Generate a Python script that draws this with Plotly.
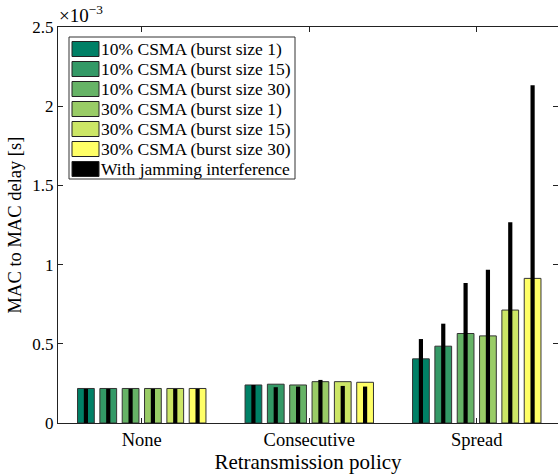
import plotly.graph_objects as go

# ---------------- data ----------------
categories = ["None", "Consecutive", "Spread"]
series_names = [
    "10% CSMA (burst size 1)",
    "10% CSMA (burst size 15)",
    "10% CSMA (burst size 30)",
    "30% CSMA (burst size 1)",
    "30% CSMA (burst size 15)",
    "30% CSMA (burst size 30)",
]
jam_name = "With jamming interference"

# MAC to MAC delay [s], one list per series: values for None, Consecutive, Spread
csma10_b1 = [0.000218, 0.000240, 0.000405]
csma10_b15 = [0.000218, 0.000245, 0.000485]
csma10_b30 = [0.000218, 0.000240, 0.000565]
csma30_b1 = [0.000218, 0.000261, 0.000550]
csma30_b15 = [0.000218, 0.000261, 0.000713]
csma30_b30 = [0.000218, 0.000257, 0.000913]

# with jamming interference
jam10_b1 = [0.000215, 0.000240, 0.000530]
jam10_b15 = [0.000215, 0.000226, 0.000627]
jam10_b30 = [0.000215, 0.000230, 0.000884]
jam30_b1 = [0.000215, 0.000272, 0.000968]
jam30_b15 = [0.000215, 0.000234, 0.001268]
jam30_b30 = [0.000215, 0.000230, 0.002133]

y_tickvals = [0, 0.0005, 0.001, 0.0015, 0.002, 0.0025]
y_ticktext = ["0", "0.5", "1", "1.5", "2", "2.5"]

# ---------------- style ----------------
colors = ["#008066", "#339966", "#66b366", "#99cc66", "#cce666", "#ffff66"]
FONT = "Liberation Serif"
W, H = 558, 474
ML, MT, MB, MR = 58, 27, 51, 0

base = [csma10_b1, csma10_b15, csma10_b30, csma30_b1, csma30_b15, csma30_b30]
jam = [jam10_b1, jam10_b15, jam10_b30, jam30_b1, jam30_b15, jam30_b30]

slot = 0.8 / 6
bar_w = 0.10
jam_w = 0.025

fig = go.Figure()
for i, (name, vals) in enumerate(zip(series_names, base)):
    center = (i - 2.5) * slot
    fig.add_trace(go.Bar(
        x=categories, y=vals, name=name,
        width=bar_w, offset=center - bar_w / 2,
        marker=dict(color=colors[i], line=dict(color="#333333", width=1)),
        showlegend=False,
    ))
for i, vals in enumerate(jam):
    center = (i - 2.5) * slot
    fig.add_trace(go.Bar(
        x=categories, y=vals, name=jam_name,
        width=jam_w, offset=center - jam_w / 2,
        marker=dict(color="black", line=dict(width=0)),
        showlegend=False,
    ))

# ---------------- custom legend (large swatches) ----------------
pw = W - ML - MR
ph = H - MT - MB


def px(x):
    return (x - ML) / pw


def py(y):
    return (H - MB - y) / ph


shapes = []
annotations = []
shapes.append(dict(type="rect", xref="paper", yref="paper",
                   x0=px(69), x1=px(295), y0=py(179), y1=py(37),
                   line=dict(color="#333333", width=1), fillcolor="white", layer="above"))
legend_entries = list(zip(series_names, colors)) + [(jam_name, "black")]
for k, (name, col) in enumerate(legend_entries):
    cy = 49 + 20 * k
    shapes.append(dict(type="rect", xref="paper", yref="paper",
                       x0=px(72), x1=px(99), y0=py(cy + 7.5), y1=py(cy - 7.5),
                       line=dict(color="#222222", width=1), fillcolor=col, layer="above"))
    annotations.append(dict(xref="paper", yref="paper", x=px(99), y=py(cy),
                            text=name, showarrow=False, xanchor="left", yanchor="middle",
                            font=dict(family=FONT, size=17.5, color="black")))

annotations.append(dict(xref="paper", yref="paper", x=0, y=1, xanchor="left", yanchor="bottom",
                        text="×10<sup>−3</sup>", showarrow=False, yshift=-1, xshift=-1,
                        font=dict(family=FONT, size=19, color="black")))

fig.update_layout(
    width=W, height=H,
    margin=dict(l=ML, r=MR, t=MT, b=MB, autoexpand=False),
    barmode="overlay",
    plot_bgcolor="white", paper_bgcolor="white",
    font=dict(family=FONT, size=17, color="black"),
    shapes=shapes, annotations=annotations,
    showlegend=False,
)
fig.update_xaxes(
    type="category", range=[-0.5, 2.485], automargin=False,
    showline=True, linecolor="#222222", linewidth=1, mirror="ticks",
    ticks="inside", ticklen=5, tickcolor="#222222",
    showgrid=False, zeroline=False,
    tickfont=dict(family=FONT, size=18.5),
    title=dict(text="Retransmission policy", font=dict(family=FONT, size=21), standoff=5),
)
fig.update_yaxes(
    range=[0, 0.0025], automargin=False,
    tickvals=y_tickvals, ticktext=y_ticktext,
    showline=True, linecolor="#222222", linewidth=1, mirror="ticks",
    ticks="inside", ticklen=5, tickcolor="#222222",
    showgrid=False, zeroline=False,
    tickfont=dict(family=FONT, size=17),
    title=dict(text="MAC to MAC delay [s]", font=dict(family=FONT, size=18.5), standoff=5),
)

fig.write_html("out.html", config={"displayModeBar": False},
               post_script="document.body.style.margin='0px';")
